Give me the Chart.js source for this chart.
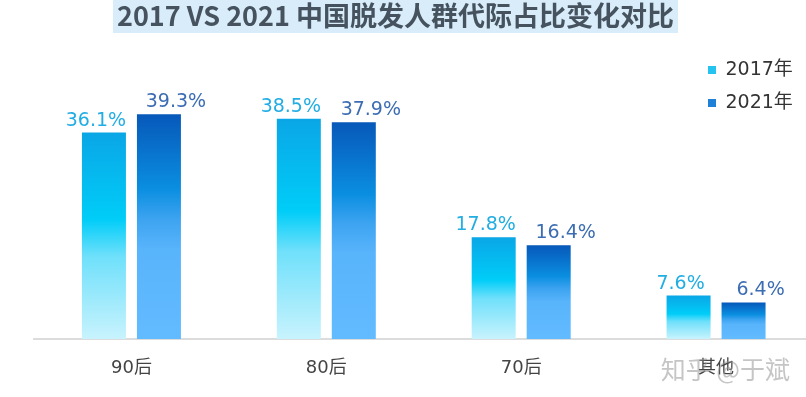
<!DOCTYPE html>
<html><head><meta charset="utf-8">
<script src="https://cdn.jsdelivr.net/npm/chart.js@4"></script>
<style>html,body{margin:0;padding:0;background:#fff;overflow:hidden}#wrap{width:814px;height:398px;position:relative}</style>
</head><body><div id="wrap"><canvas id="c"></canvas></div>
<script>
const chartTitle = '2017 VS 2021 中国脱发人群代际占比变化对比';
const categories = ['90后', '80后', '70后', '其他'];
const seriesNames = ['2017年', '2021年'];
const values2017 = [36.1, 38.5, 17.8, 7.6];
const values2021 = [39.3, 37.9, 16.4, 6.4];
const watermarkText = '知乎 @于斌';

const stops2017 = [[0, '#0aa6e6'], [0.42, '#00cdf8'], [0.6, '#6fe0fb'], [1, '#c8f3fd']];
const stops2021 = [[0, '#0758b9'], [0.33, '#0a8ee0'], [0.47, '#3ea4f1'], [0.6, '#58b4fb'], [1, '#63bbff']];
const legendColors = ['#25c3ef', '#1f80d8'];
const labelColors = ['#22ade3', '#3c6db3'];

function barGradient(stops, fallback) {
  return function (ctx) {
    const chart = ctx.chart;
    if (ctx.type !== 'data' || !chart.chartArea) return fallback;
    const y = chart.scales.y;
    const top = y.getPixelForValue(ctx.raw);
    const bottom = y.getPixelForValue(0);
    const g = chart.ctx.createLinearGradient(0, top, 0, bottom);
    stops.forEach(([t, c]) => g.addColorStop(t, c));
    return g;
  };
}

const TITLE_FONT = { family: '"Noto Sans CJK SC", "DejaVu Sans", sans-serif', size: 27, weight: 'bold' };

const placement = {
  id: 'placement',
  afterLayout(chart, args, o) {
    const tb = chart.titleBlock;
    if (tb) { tb.left = o.titleLeft; tb.right = o.titleRight; tb.width = tb.right - tb.left; }
    const lg = chart.legend;
    if (lg) { lg.left = o.legendX; lg.top = o.legendY; lg.right = lg.left + lg.width; lg.bottom = lg.top + lg.height; }
  }
};

const titleHighlight = {
  id: 'titleHighlight',
  beforeDraw(chart, args, o) {
    const tb = chart.titleBlock;
    if (!tb) return;
    const ctx = chart.ctx;
    ctx.save();
    ctx.font = TITLE_FONT.weight + ' ' + TITLE_FONT.size + 'px ' + TITLE_FONT.family;
    const w = ctx.measureText(chartTitle).width;
    const cx = (tb.left + tb.right) / 2;
    ctx.fillStyle = o.color;
    ctx.fillRect(cx - w / 2 - o.padX, 0, w + 2 * o.padX, o.height);
    ctx.restore();
  }
};

const valueLabels = {
  id: 'valueLabels',
  afterDatasetsDraw(chart, args, o) {
    const ctx = chart.ctx;
    ctx.save();
    ctx.font = o.font;
    ctx.textAlign = 'center';
    ctx.textBaseline = 'alphabetic';
    chart.data.datasets.forEach((ds, di) => {
      const meta = chart.getDatasetMeta(di);
      ctx.fillStyle = o.colors[di];
      meta.data.forEach((bar, i) => {
        ctx.fillText(ds.data[i].toFixed(1) + '%', bar.x + o.dx[di], bar.y - o.gap);
      });
    });
    ctx.restore();
  }
};

const watermark = {
  id: 'watermark',
  afterDraw(chart, args, o) {
    const ctx = chart.ctx;
    ctx.save();
    ctx.font = o.font;
    ctx.fillStyle = o.color;
    ctx.textAlign = 'right';
    ctx.textBaseline = 'middle';
    ctx.fillText(watermarkText, chart.width - o.right, chart.chartArea.bottom + o.belowAxis);
    ctx.restore();
  }
};

new Chart(document.getElementById('c'), {
  type: 'bar',
  data: {
    labels: categories,
    datasets: [
      { label: seriesNames[0], data: values2017, backgroundColor: barGradient(stops2017, legendColors[0]) },
      { label: seriesNames[1], data: values2021, backgroundColor: barGradient(stops2021, legendColors[1]) }
    ]
  },
  options: {
    responsive: true,
    maintainAspectRatio: false,
    devicePixelRatio: 1,
    animation: false,
    datasets: { bar: { categoryPercentage: 0.5644, barPercentage: 0.8, borderWidth: 0 } },
    layout: { padding: { left: 34, right: 0.5, top: 0, bottom: 0 } },
    scales: {
      x: {
        grid: { display: false, drawTicks: false },
        border: { display: true, color: '#dcdcdc', width: 2 },
        ticks: { color: '#444', padding: 18.7, font: { family: '"DejaVu Sans", "Noto Sans CJK SC", sans-serif', size: 18 } }
      },
      y: { display: false, min: 0, max: 50 }
    },
    plugins: {
      title: {
        display: true, text: chartTitle, color: '#46535f', font: TITLE_FONT,
        padding: { top: 0, bottom: 20.6 }
      },
      legend: {
        position: 'chartArea', align: 'start',
        labels: {
          boxWidth: 8, boxHeight: 8, padding: 14, color: '#333',
          font: { family: '"DejaVu Sans", "Noto Sans CJK SC", sans-serif', size: 19 },
          generateLabels(chart) {
            return chart.data.datasets.map((ds, i) => ({
              text: ds.label, fillStyle: legendColors[i], strokeStyle: legendColors[i],
              lineWidth: 0, hidden: false, datasetIndex: i, fontColor: '#333'
            }));
          }
        }
      },
      tooltip: { enabled: false },
      placement: { titleLeft: 0, titleRight: 791, legendX: 694, legendY: 46.5 },
      titleHighlight: { color: '#d8ecfa', padX: 4, height: 33 },
      valueLabels: { font: '19px "DejaVu Sans", sans-serif', colors: labelColors, dx: [-8, 17], gap: 7 },
      watermark: { font: '25px "Noto Sans CJK SC", sans-serif', color: 'rgba(150,150,150,0.55)', right: 24, belowAxis: 30 }
    }
  },
  plugins: [placement, titleHighlight, valueLabels, watermark]
});
</script>
</body></html>
